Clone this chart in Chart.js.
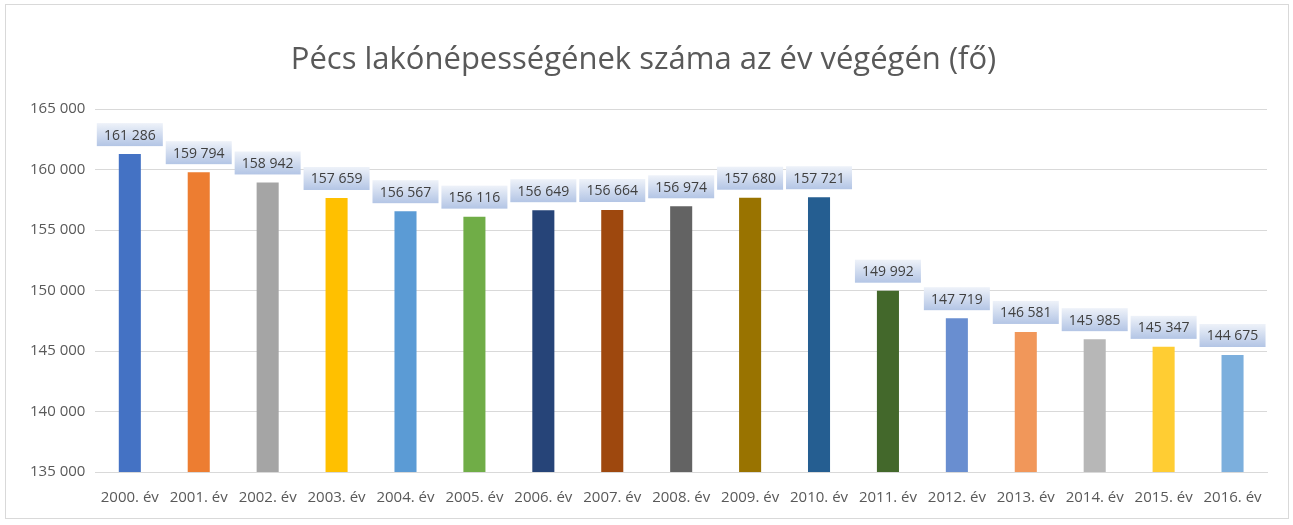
<!DOCTYPE html>
<html>
<head>
<meta charset="utf-8">
<script src="https://cdn.jsdelivr.net/npm/chart.js@4"></script>
<style>
  html, body { margin: 0; padding: 0; background: #fff; }
  #wrap {
    position: absolute; left: 5px; top: 4px; width: 1284px; height: 515px;
    border: 1px solid #d9d9d9; box-sizing: border-box;
  }
  canvas { display: block; }
</style>
</head>
<body>
<div id="wrap"><canvas id="popChart" width="1282" height="515"></canvas></div>
<script>
// Chart data
const years = ['2000. év', '2001. év', '2002. év', '2003. év', '2004. év', '2005. év', '2006. év',
    '2007. év', '2008. év', '2009. év', '2010. év', '2011. év', '2012. év', '2013. év',
    '2014. év', '2015. év', '2016. év'];
const population = [161286, 159794, 158942, 157659, 156567, 156116, 156649, 156664, 156974,
    157680, 157721, 149992, 147719, 146581, 145985, 145347, 144675];
const barColors = ['#4472C4', '#ED7D31', '#A5A5A5', '#FFC000', '#5B9BD5', '#70AD47', '#264478',
    '#9E480E', '#636363', '#997300', '#255E91', '#43682B', '#698ED0', '#F1975A',
    '#B7B7B7', '#FFCD33', '#7CAFDD'];
const yMin = 135000;
const yMax = 165000;
const yStep = 5000;

const fontName = "'Open Sans', 'Noto Sans', sans-serif";

// space as thousands separator, like the original
const fmt = (v) => String(v).replace(/\B(?=(\d{3})+(?!\d))/g, ' ');

// Draws the boxed value labels above each bar
const boxLabels = {
    id: 'boxLabels',
    afterDatasetsDraw(chart) {
        const ctx = chart.ctx;
        const meta = chart.getDatasetMeta(0);
        ctx.save();
        ctx.font = '14px ' + fontName;
        ctx.textAlign = 'center';
        ctx.textBaseline = 'middle';
        meta.data.forEach((bar, i) => {
            const w = 66, h = 23;
            const left = bar.x - w / 2;
            const top = bar.y - 8 - h;
            const grad = ctx.createLinearGradient(0, top, 0, top + h);
            grad.addColorStop(0, '#eef2f9');
            grad.addColorStop(1, '#b3c5e5');
            ctx.fillStyle = grad;
            ctx.fillRect(left, top, w, h);
            ctx.fillStyle = '#404040';
            ctx.fillText(fmt(population[i]), bar.x, top + h / 2 + 1);
        });
        ctx.restore();
    }
};

const ctx = document.getElementById('popChart').getContext('2d');
const popChart = new Chart(ctx, {
    type: 'bar',
    data: {
        labels: years,
        datasets: [{
            data: population,
            backgroundColor: barColors,
            borderWidth: 0,
            barPercentage: 0.32,
            categoryPercentage: 1
        }]
    },
    options: {
        responsive: false,
        animation: false,
        layout: { padding: { left: 14, right: 21, top: 37, bottom: 4 } },
        plugins: {
            legend: { display: false },
            tooltip: { enabled: false },
            title: {
                display: true,
                text: 'Pécs lakónépességének száma az év végégén (fő)',
                color: '#595959',
                font: { family: fontName, size: 31, weight: 'normal' },
                padding: { top: 0, bottom: 30 }
            }
        },
        scales: {
            x: {
                grid: { display: false },
                border: { color: '#d9d9d9' },
                ticks: {
                    color: '#595959',
                    font: { family: fontName, size: 15 },
                    maxRotation: 0,
                    autoSkip: false,
                    padding: 9
                }
            },
            y: {
                min: yMin,
                max: yMax,
                grid: { color: '#d9d9d9', drawTicks: false },
                border: { display: false },
                ticks: {
                    stepSize: yStep,
                    color: '#595959',
                    font: { family: fontName, size: 15 },
                    padding: 10,
                    callback: (v) => fmt(v)
                }
            }
        }
    },
    plugins: [boxLabels]
});
</script>
</body>
</html>
